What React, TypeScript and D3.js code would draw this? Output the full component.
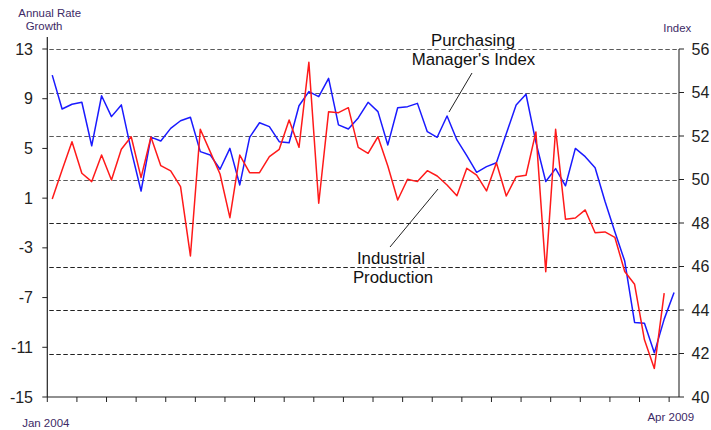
import React from "react";
import * as d3 from "d3";

const months: Date[] = d3.timeMonth.range(new Date(2004, 0, 1), new Date(2009, 4, 1));

// Purchasing Manager's Index (right axis), Jan 2004 - Apr 2009
const pmiValues = [
  54.8, 53.24, 53.46, 53.55, 51.55, 53.85, 52.89, 53.43, 51.34, 49.47,
  51.95, 51.77, 52.35, 52.7, 52.86, 51.28, 51.13, 50.47, 51.43, 49.75,
  51.94, 52.61, 52.43, 51.74, 51.69, 53.39, 54.04, 53.81, 54.65, 52.51,
  52.32, 52.83, 53.55, 53.12, 51.59, 53.3, 53.35, 53.5, 52.2, 51.94,
  52.92, 51.82, 51.1, 50.33, 50.59, 50.77, 52.1, 53.43, 53.92, 51.72,
  49.91, 50.5, 49.71, 51.43, 51.05, 50.54, 49.0, 47.6, 46.25, 43.43,
  43.39, 42.03, 43.58, 44.8,
];

// Industrial Production annual growth (left axis), Jan 2004 - Mar 2009
const ipValues = [
  0.93, 3.27, 5.54, 3.0, 2.33, 4.47, 2.46, 4.93, 5.94, 2.65,
  5.92, 3.61, 3.19, 1.92, -3.65, 6.54, 4.74, 2.94, -0.57, 4.47,
  3.05, 3.05, 4.34, 4.93, 7.29, 5.09, 11.93, 0.59, 7.96, 7.88,
  8.28, 5.08, 4.61, 5.94, 3.59, 0.85, 2.52, 2.33, 3.21, 2.78,
  2.06, 1.2, 3.4, 2.86, 1.58, 3.85, 1.17, 2.73, 2.84, 6.33,
  -4.92, 6.54, -0.69, -0.6, 0.05, -1.78, -1.72, -2.15, -4.9, -5.93,
  -10.4, -12.7, -6.65,
];

const leftTicks = [13, 9, 5, 1, -3, -7, -11, -15];
const rightTicks = [56, 54, 52, 50, 48, 46, 44, 42, 40];
const gridValues = [56, 54, 52, 50, 48, 46, 44, 42];
const xTickEvery = 3;
const firstLabel = "Jan 2004";
const lastLabel = "Apr 2009";

const FONT = "'Liberation Sans', Arial, sans-serif";

export default function App() {
  const W = 711, H = 430;
  const left = 47.3, right = 679, top = 49, bottom = 397;

  const x = d3.scaleBand<number>().domain(months.map((_, i) => i)).range([left, right]).padding(0);
  const bw = x.bandwidth();
  const cx = (i: number) => (x(i) as number) + bw / 2;
  const yL = d3.scaleLinear().domain([-15, 13]).range([bottom, top]);
  const yR = d3.scaleLinear().domain([40, 56]).range([bottom, top]);

  const pmiLine = d3.line<number>().x((_, i) => cx(i)).y((d) => yR(d));
  const ipLine = d3.line<number>().x((_, i) => cx(i)).y((d) => yL(d));

  const xTickIdx = months.map((_, i) => i).filter((i) => i % xTickEvery === 0);

  return (
    <svg width={W} height={H} style={{ position: "absolute", left: 0, top: 0, background: "#fff" }} fontFamily={FONT}>
      <rect x={0} y={0} width={W} height={H} fill="#fff" />
      {/* gridlines */}
      {gridValues.map((v, k) => (
        <line key={"g" + v} x1={left + 2} x2={right} y1={Math.round(yR(v)) + 0.5} y2={Math.round(yR(v)) + 0.5}
          stroke={k < 4 ? "#5a5a5a" : "#222"} strokeWidth={1} strokeDasharray="4.5,2.5" />
      ))}
      {/* left axis */}
      <line x1={left} x2={left} y1={37} y2={bottom} stroke="#222" strokeWidth={1.2} />
      {leftTicks.map((v) => (
        <g key={"l" + v}>
          <line x1={left - 5} x2={left} y1={yL(v)} y2={yL(v)} stroke="#222" strokeWidth={1} />
          <text x={33} y={yL(v) + 5.5} textAnchor="end" fontSize={16} fill="#222">{v}</text>
        </g>
      ))}
      {/* right axis */}
      <line x1={right} x2={right} y1={top} y2={bottom} stroke="#8a8a8a" strokeWidth={2} />
      {rightTicks.map((v) => (
        <g key={"r" + v}>
          <line x1={right} x2={right + 5} y1={yR(v)} y2={yR(v)} stroke="#222" strokeWidth={1} />
          <text x={691.5} y={yR(v) + 5.5} textAnchor="start" fontSize={16} fill="#222">{v}</text>
        </g>
      ))}
      {/* bottom axis */}
      <line x1={left} x2={right} y1={bottom} y2={bottom} stroke="#222" strokeWidth={1.2} />
      {xTickIdx.map((i) => (
        <line key={"x" + i} x1={x(i) as number} x2={x(i) as number} y1={bottom} y2={bottom + 5} stroke="#222" strokeWidth={1} />
      ))}
      <text x={45.8} y={426.5} textAnchor="middle" fontSize={11.5} fill="#3d2a66">{firstLabel}</text>
      <text x={670.8} y={421} textAnchor="middle" fontSize={11.5} fill="#3d2a66">{lastLabel}</text>

      {/* axis titles */}
      <text x={18.3} y={16.5} fontSize={11.4} fill="#3d2a66">Annual Rate</text>
      <text x={25.7} y={30} fontSize={11.4} fill="#3d2a66">Growth</text>
      <text x={663.3} y={31.5} fontSize={11.4} fill="#3d2a66">Index</text>

      {/* series */}
      <path d={pmiLine(pmiValues) || ""} fill="none" stroke="#1a1aff" strokeWidth={1.5} strokeLinejoin="round" />
      <path d={ipLine(ipValues) || ""} fill="none" stroke="#ff1a1a" strokeWidth={1.5} strokeLinejoin="round" />

      {/* annotations */}
      <text x={473} y={46} textAnchor="middle" fontSize={16.8} fill="#111">Purchasing</text>
      <text x={473.5} y={64.5} textAnchor="middle" fontSize={16.8} fill="#111">Manager's Index</text>
      <line x1={472} y1={73} x2={449} y2={112} stroke="#222" strokeWidth={1} />
      <text x={391} y={264} textAnchor="middle" fontSize={16.8} fill="#111">Industrial</text>
      <text x={393} y={282.5} textAnchor="middle" fontSize={16.8} fill="#111">Production</text>
      <line x1={438} y1={189} x2={390} y2={247} stroke="#222" strokeWidth={1} />
    </svg>
  );
}
